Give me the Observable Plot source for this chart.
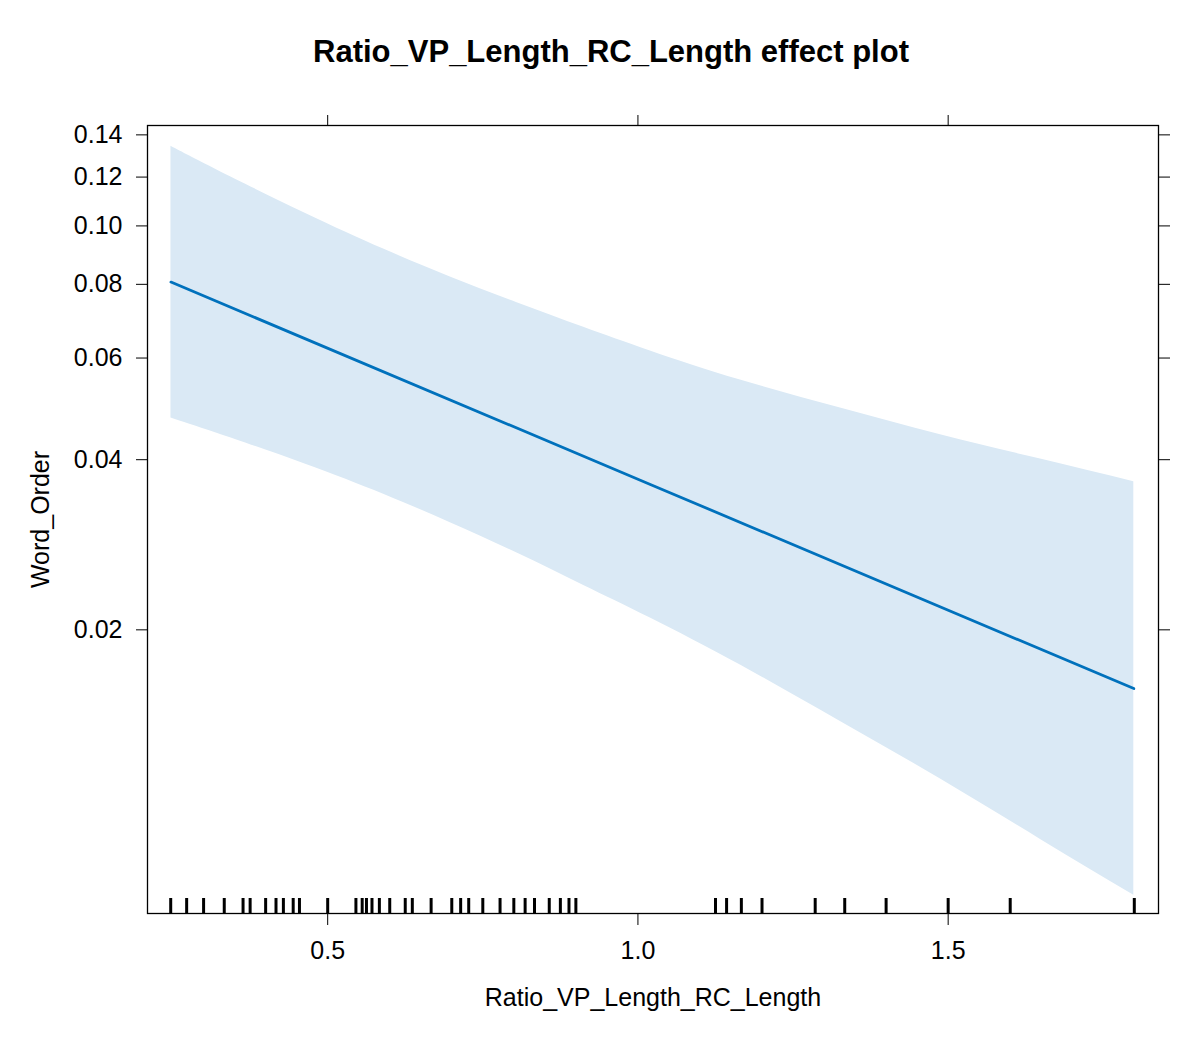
<!DOCTYPE html>
<html>
<head>
<meta charset="utf-8">
<script src="https://cdn.jsdelivr.net/npm/d3@7"></script>
<script src="https://cdn.jsdelivr.net/npm/@observablehq/plot@0.6"></script>
<style>
  html, body { margin: 0; padding: 0; background: white; }
  #wrap { position: relative; width: 1200px; height: 1040px; }
  #title { position: absolute; top: 52px; left: 611px; transform: translate(-50%, -50%);
           font: bold 31px "Liberation Sans", Arial, sans-serif; color: #000; white-space: nowrap; }
  #chart { position: absolute; top: 90px; left: 0; }
</style>
</head>
<body>
<div id="wrap">
  <div id="title">Ratio_VP_Length_RC_Length effect plot</div>
  <div id="chart"></div>
</div>
<script>
// ---- data ----
const titleText = "Ratio_VP_Length_RC_Length effect plot";
const xLabel = "Ratio_VP_Length_RC_Length";
const yLabel = "Word_Order";

// fitted line (probability scale)
const fitX = [0.2474, 1.02, 1.7992];
const fitY = [0.0807, 0.0362, 0.0157];

// confidence band
const bandX     = [0.2474, 0.3215, 0.4611, 0.5901, 0.6976, 0.8052, 0.9126, 1.0200, 1.1651, 1.3263, 1.4876, 1.6488, 1.7992];
const bandUpper = [0.1343, 0.1232, 0.1052, 0.0916, 0.0823, 0.0745, 0.0677, 0.0617, 0.0550, 0.0492, 0.0442, 0.0401, 0.0366];
const bandLower = [0.0473, 0.0445, 0.0394, 0.0348, 0.0310, 0.0274, 0.0240, 0.0210, 0.0173, 0.0137, 0.0108, 0.0084, 0.00666];

// rug of observed x values
const rugX = [0.247, 0.2727, 0.30, 0.3333, 0.3636, 0.375, 0.40, 0.4167, 0.4286, 0.4444, 0.4545,
  0.50, 0.5455, 0.5556, 0.5625, 0.5714, 0.5833, 0.60, 0.625, 0.6364, 0.6667, 0.70, 0.7143, 0.7273,
  0.75, 0.7778, 0.80, 0.8182, 0.8333, 0.8571, 0.875, 0.8889, 0.90,
  1.125, 1.1429, 1.1667, 1.20, 1.2857, 1.3333, 1.40, 1.50, 1.60, 1.80];

// axis ticks
const xTicks = [0.5, 1.0, 1.5];
const yTicks = [0.02, 0.04, 0.06, 0.08, 0.10, 0.12, 0.14];

// ---- logit transform (effects plot uses a logit response axis) ----
const logit = p => Math.log(p / (1 - p));
const invlogit = v => 1 / (1 + Math.exp(-v));

const band = bandX.map((x, i) => ({x, lower: bandLower[i], upper: bandUpper[i]}));
const fit = fitX.map((x, i) => ({x, y: fitY[i]}));

const lineColor = "#0071BC";
const bandColor = "#DAE9F5";

const chart = Plot.plot({
  width: 1200,
  height: 950,
  marginLeft: 147,
  marginRight: 42,
  marginTop: 35,
  marginBottom: 127,
  style: {fontFamily: '"Liberation Sans", Arial, sans-serif', fontSize: "25px", background: "white", color: "black"},
  x: {domain: [0.2096, 1.839]},
  y: {domain: [logit(0.00617), logit(0.1448)]},
  marks: [
    Plot.areaY(band, {x: "x", y1: d => logit(d.lower), y2: d => logit(d.upper), fill: bandColor, curve: "natural"}),
    Plot.line(fit, {x: "x", y: d => logit(d.y), stroke: lineColor, strokeWidth: 2.8}),
    Plot.ruleX(rugX, {x: d => d, insetTop: 773, stroke: "black", strokeWidth: 3}),
    Plot.frame({stroke: "black", strokeWidth: 1.3}),
    Plot.axisY({anchor: "left", ticks: yTicks.map(logit), tickFormat: v => d3.format(".2f")(invlogit(v)),
                tickSize: 11, tickPadding: 14, label: null}),
    Plot.axisY({anchor: "right", ticks: yTicks.map(logit), tickFormat: () => "", tickSize: 11, label: null}),
    Plot.axisX({anchor: "bottom", ticks: xTicks, tickFormat: d3.format(".1f"), tickSize: 12, tickPadding: 16, label: null}),
    Plot.axisX({anchor: "top", ticks: xTicks, tickFormat: () => "", tickSize: 11, label: null}),
    Plot.text([xLabel], {text: d => d, frameAnchor: "bottom", dy: 84, textAnchor: "middle", lineAnchor: "middle", fontSize: 25}),
    Plot.text([yLabel], {text: d => d, frameAnchor: "left", dx: -107, rotate: -90, textAnchor: "middle", lineAnchor: "middle", fontSize: 25})
  ]
});
document.getElementById("chart").appendChild(chart);
</script>
</body>
</html>
